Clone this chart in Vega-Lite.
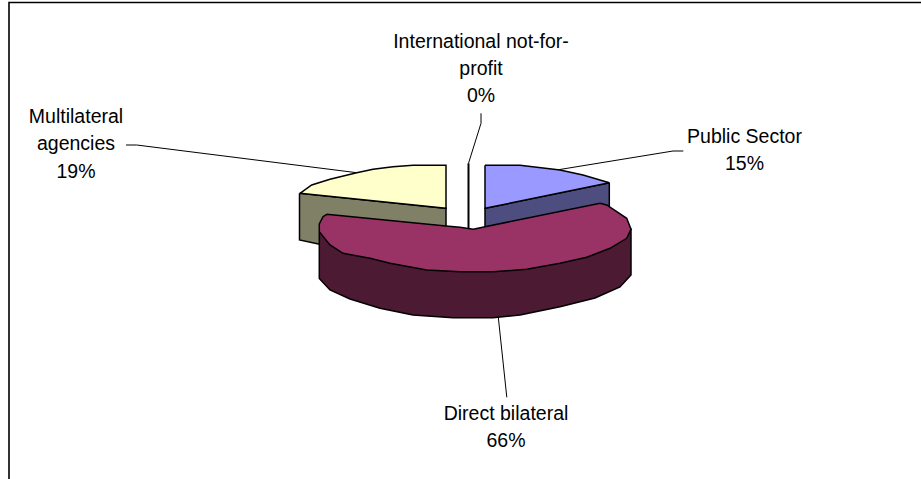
{
  "$schema": "https://vega.github.io/schema/vega-lite/v6.json",
  "width": 921,
  "height": 479,
  "padding": 0,
  "autosize": "none",
  "background": "white",
  "view": {"stroke": null},
  "datasets": {
    "outline": [
      {"piece":"frame","seq":1,"x":9,"y":479},{"piece":"frame","seq":2,"x":9,"y":2.5},{"piece":"frame","seq":3,"x":921,"y":2.5},

      {"piece":"leader","seq":1,"group":"a","x":126,"y":145},{"piece":"leader","seq":2,"group":"a","x":136.7,"y":145},{"piece":"leader","seq":3,"group":"a","x":356.7,"y":172.7},
      {"piece":"leader","seq":1,"group":"b","x":481,"y":113.3},{"piece":"leader","seq":2,"group":"b","x":481,"y":123.3},{"piece":"leader","seq":3,"group":"b","x":468.5,"y":163.3},
      {"piece":"leader","seq":1,"group":"c","x":683.3,"y":151},{"piece":"leader","seq":2,"group":"c","x":673,"y":151},{"piece":"leader","seq":3,"group":"c","x":556.7,"y":170},
      {"piece":"leader","seq":1,"group":"d","x":498.3,"y":317.3},{"piece":"leader","seq":2,"group":"d","x":506.8,"y":397.3},

      {"piece":"multilateral_side","seq":1,"x":299.5,"y":193.3},{"piece":"multilateral_side","seq":2,"x":446,"y":208.3},{"piece":"multilateral_side","seq":3,"x":446,"y":240},{"piece":"multilateral_side","seq":4,"x":323,"y":245},{"piece":"multilateral_side","seq":5,"x":299.5,"y":240},{"piece":"multilateral_side","seq":6,"x":299.5,"y":193.3},

      {"piece":"multilateral_top","seq":1,"x":300,"y":193.3},{"piece":"multilateral_top","seq":2,"x":311.7,"y":185},{"piece":"multilateral_top","seq":3,"x":330,"y":179.3},{"piece":"multilateral_top","seq":4,"x":356.7,"y":172.7},{"piece":"multilateral_top","seq":5,"x":373,"y":169.3},{"piece":"multilateral_top","seq":6,"x":393,"y":166.7},{"piece":"multilateral_top","seq":7,"x":413,"y":165.3},{"piece":"multilateral_top","seq":8,"x":446,"y":165.3},{"piece":"multilateral_top","seq":9,"x":446,"y":208.3},{"piece":"multilateral_top","seq":10,"x":300,"y":193.3},

      {"piece":"public_side","seq":1,"x":609.3,"y":182.7},{"piece":"public_side","seq":2,"x":609.3,"y":215},{"piece":"public_side","seq":3,"x":485,"y":235},{"piece":"public_side","seq":4,"x":485,"y":208.3},{"piece":"public_side","seq":5,"x":609.3,"y":182.7},

      {"piece":"public_top","seq":1,"x":485,"y":165.3},{"piece":"public_top","seq":2,"x":520,"y":165.3},{"piece":"public_top","seq":3,"x":560,"y":170},{"piece":"public_top","seq":4,"x":583,"y":175},{"piece":"public_top","seq":5,"x":609.3,"y":182.7},{"piece":"public_top","seq":6,"x":485,"y":208.3},{"piece":"public_top","seq":7,"x":485,"y":165.3},

      {"piece":"bilateral_side","seq":1,"x":319.3,"y":231.7},{"piece":"bilateral_side","seq":2,"x":319.3,"y":278.5},{"piece":"bilateral_side","seq":3,"x":330,"y":290},{"piece":"bilateral_side","seq":4,"x":350,"y":299},{"piece":"bilateral_side","seq":5,"x":380,"y":308.3},{"piece":"bilateral_side","seq":6,"x":413,"y":315},{"piece":"bilateral_side","seq":7,"x":453,"y":317.7},{"piece":"bilateral_side","seq":8,"x":493,"y":317.7},{"piece":"bilateral_side","seq":9,"x":520,"y":315},{"piece":"bilateral_side","seq":10,"x":560,"y":306.7},{"piece":"bilateral_side","seq":11,"x":595,"y":298},{"piece":"bilateral_side","seq":12,"x":620,"y":287},{"piece":"bilateral_side","seq":13,"x":631,"y":275},{"piece":"bilateral_side","seq":14,"x":631,"y":229.3},{"piece":"bilateral_side","seq":15,"x":319.3,"y":231.7},

      {"piece":"bilateral_top","seq":1,"x":326.7,"y":214.3},{"piece":"bilateral_top","seq":2,"x":446,"y":226},{"piece":"bilateral_top","seq":3,"x":460,"y":227.3},{"piece":"bilateral_top","seq":4,"x":473.3,"y":229.3},{"piece":"bilateral_top","seq":5,"x":485,"y":226.7},{"piece":"bilateral_top","seq":6,"x":600,"y":203.3},{"piece":"bilateral_top","seq":7,"x":606.7,"y":205},{"piece":"bilateral_top","seq":8,"x":626.7,"y":218.3},{"piece":"bilateral_top","seq":9,"x":631,"y":229.3},{"piece":"bilateral_top","seq":10,"x":626.7,"y":238.3},{"piece":"bilateral_top","seq":11,"x":610,"y":248.3},{"piece":"bilateral_top","seq":12,"x":586.7,"y":257.3},{"piece":"bilateral_top","seq":13,"x":560,"y":263.3},{"piece":"bilateral_top","seq":14,"x":526.7,"y":269.3},{"piece":"bilateral_top","seq":15,"x":493.3,"y":271.7},{"piece":"bilateral_top","seq":16,"x":460,"y":271.7},{"piece":"bilateral_top","seq":17,"x":426.7,"y":270},{"piece":"bilateral_top","seq":18,"x":390,"y":263.3},{"piece":"bilateral_top","seq":19,"x":370,"y":258.3},{"piece":"bilateral_top","seq":20,"x":343,"y":253.3},{"piece":"bilateral_top","seq":21,"x":330,"y":245},{"piece":"bilateral_top","seq":22,"x":319.3,"y":231.7},{"piece":"bilateral_top","seq":23,"x":319.3,"y":224},{"piece":"bilateral_top","seq":24,"x":323,"y":216.7},{"piece":"bilateral_top","seq":25,"x":326.7,"y":214.3},

      {"piece":"not_for_profit","seq":1,"x":468.5,"y":163.3},{"piece":"not_for_profit","seq":2,"x":468.5,"y":228}
    ],
    "shares": [
      {"name":"Multilateral\nagencies\n19%","x":76,"y":117},
      {"name":"International not-for-\nprofit\n0%","x":481,"y":41.5},
      {"name":"Public Sector\n15%","x":744.5,"y":136.5},
      {"name":"Direct bilateral\n66%","x":506,"y":414}
    ]
  },
  "encoding": {
    "x": {"field":"x","type":"quantitative","axis":null,"scale":{"domain":[0,921],"range":[0,921]}},
    "y": {"field":"y","type":"quantitative","axis":null,"scale":{"domain":[0,479],"range":[0,479]}}
  },
  "layer": [
    {"data":{"name":"outline"},"transform":[{"filter":"datum.piece==='frame'"}],"mark":{"type":"line","stroke":"#000000","strokeWidth":1.6},"encoding":{"order":{"field":"seq"}}},
    {"data":{"name":"outline"},"transform":[{"filter":"datum.piece==='leader'"}],"mark":{"type":"line","stroke":"#000000","strokeWidth":1},"encoding":{"detail":{"field":"group"},"order":{"field":"seq"}}},
    {"data":{"name":"outline"},"transform":[{"filter":"datum.piece==='multilateral_side'"}],"mark":{"type":"line","fill":"#808066","stroke":"#000000","strokeWidth":1.5},"encoding":{"order":{"field":"seq"}}},
    {"data":{"name":"outline"},"transform":[{"filter":"datum.piece==='multilateral_top'"}],"mark":{"type":"line","fill":"#ffffcc","stroke":"#000000","strokeWidth":1.5},"encoding":{"order":{"field":"seq"}}},
    {"data":{"name":"outline"},"transform":[{"filter":"datum.piece==='public_side'"}],"mark":{"type":"line","fill":"#4d4d80","stroke":"#000000","strokeWidth":1.5},"encoding":{"order":{"field":"seq"}}},
    {"data":{"name":"outline"},"transform":[{"filter":"datum.piece==='public_top'"}],"mark":{"type":"line","fill":"#9999ff","stroke":"#000000","strokeWidth":1.5},"encoding":{"order":{"field":"seq"}}},
    {"data":{"name":"outline"},"transform":[{"filter":"datum.piece==='bilateral_side'"}],"mark":{"type":"line","fill":"#4d1a33","stroke":"#000000","strokeWidth":1.5},"encoding":{"order":{"field":"seq"}}},
    {"data":{"name":"outline"},"transform":[{"filter":"datum.piece==='bilateral_top'"}],"mark":{"type":"line","fill":"#993366","stroke":"#000000","strokeWidth":1.5},"encoding":{"order":{"field":"seq"}}},
    {"data":{"name":"outline"},"transform":[{"filter":"datum.piece==='not_for_profit'"}],"mark":{"type":"line","stroke":"#000000","strokeWidth":2},"encoding":{"order":{"field":"seq"}}},
    {"data":{"name":"shares"},"mark":{"type":"text","font":"Liberation Sans","fontSize":19.5,"lineBreak":"\n","lineHeight":27.3,"align":"center","baseline":"middle","color":"#000000"},"encoding":{"text":{"field":"name"}}}
  ]
}
